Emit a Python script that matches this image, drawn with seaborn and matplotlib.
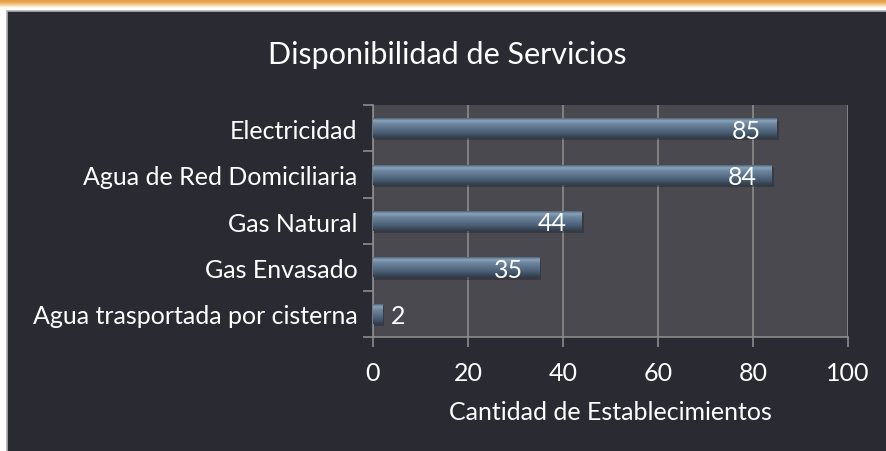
import numpy as np
import pandas as pd
import matplotlib
matplotlib.use("Agg")
import matplotlib.pyplot as plt
from matplotlib.patches import Rectangle
from matplotlib.colors import LinearSegmentedColormap
import seaborn as sns

# data
servicios = ["Electricidad", "Agua de Red Domiciliaria", "Gas Natural",
             "Gas Envasado", "Agua trasportada por cisterna"]
cantidad = [85, 84, 44, 35, 2]
x_ticks = [0, 20, 40, 60, 80, 100]

df = pd.DataFrame({"servicio": servicios, "cantidad": cantidad})

sns.set_theme(style="white")
plt.rcParams["font.family"] = ["Lato", "DejaVu Sans"]

PANEL = "#2a2a33"
PLOT_BG = "#4b4950"
GRID = "#8c8c8c"

fig = plt.figure(figsize=(8.87, 4.52), dpi=100)
fig.patch.set_facecolor("white")

# dark panel behind everything
bg = fig.add_axes([0, 0, 1, 1], zorder=-10)
bg.set_xlim(0, 887)
bg.set_ylim(452, 0)
bg.axis("off")
grad_cmap = LinearSegmentedColormap.from_list(
    "strip", ["#e3983a", "#eaa550", "#f6d29e", "#ffffff", "#ffffff"])
bg.imshow(np.linspace(0, 1, 50).reshape(-1, 1), aspect="auto", cmap=grad_cmap,
          extent=(0, 887, 12, 0))
bg.add_patch(Rectangle((7, 12), 900, 460, facecolor=PANEL,
                       edgecolor="#b0b0b0", linewidth=1.2))

ax = fig.add_axes([373 / 887, 1 - 338 / 452, 475 / 887, 232 / 452])
ax.set_facecolor(PLOT_BG)

sns.barplot(data=df, y="servicio", x="cantidad", orient="h", color="#4e6378",
            width=0.43, linewidth=0, ax=ax, zorder=3)

# shading on bars
bar_cmap = LinearSegmentedColormap.from_list(
    "bar", [(0.0, "#4f6579"), (0.12, "#8aa2ba"), (0.3, "#6c859e"),
            (0.7, "#4c6177"), (1.0, "#2f3e4e")])
grad = np.linspace(0, 1, 64).reshape(-1, 1)
for p in list(ax.patches):
    x0, y0 = p.get_x(), p.get_y()
    w, h = p.get_width(), p.get_height()
    # drop shadow
    ax.add_patch(Rectangle((x0, y0 + 0.05), w + 0.4, h, facecolor="#222228",
                           alpha=0.4, zorder=2, linewidth=0))
    im = ax.imshow(grad, cmap=bar_cmap, aspect="auto",
                   extent=(x0, x0 + w, y0 + h, y0), zorder=4)
    im.set_clip_path(p)

for i, v in enumerate(cantidad):
    if v > 10:
        ax.text(v - 3.3, i + 0.04, str(v), ha="right", va="center",
                color="white", fontsize=18, zorder=6)
    else:
        ax.text(v + 1.7, i + 0.04, str(v), ha="left", va="center",
                color="white", fontsize=18, zorder=6)

ax.set_xlim(0, 100)
ax.set_ylim(len(servicios) - 0.5, -0.5)
ax.set_xticks(x_ticks)
ax.set_xticklabels([str(t) for t in x_ticks])
ax.set_yticks(np.arange(len(servicios)))
ax.set_yticklabels(servicios)
ax.xaxis.grid(True, color=GRID, linewidth=1.2, zorder=1)
ax.set_axisbelow(True)

# boundary tick marks on the category axis
ax.set_yticks(np.arange(-0.5, len(servicios)), minor=True)
ax.tick_params(axis="y", which="major", length=0, pad=11,
               labelcolor="white", labelsize=18)
ax.tick_params(axis="y", which="minor", length=7, width=1.2, color=GRID,
               direction="out", left=True)
ax.tick_params(axis="x", length=7, width=1.2, color=GRID, direction="out",
               bottom=True, labelcolor="white", labelsize=18, pad=10)

for s in ["top", "right"]:
    ax.spines[s].set_visible(False)
for s in ["left", "bottom"]:
    ax.spines[s].set_color(GRID)
    ax.spines[s].set_linewidth(1.2)

ax.set_ylabel("")
ax.set_xlabel("Cantidad de Establecimientos", color="white", fontsize=18,
              labelpad=12)

fig.text(447 / 887, 1 - 55 / 452, "Disponibilidad de Servicios", ha="center",
         va="center", color="white", fontsize=22)

fig.savefig("out.png", dpi=100, facecolor=fig.get_facecolor())
